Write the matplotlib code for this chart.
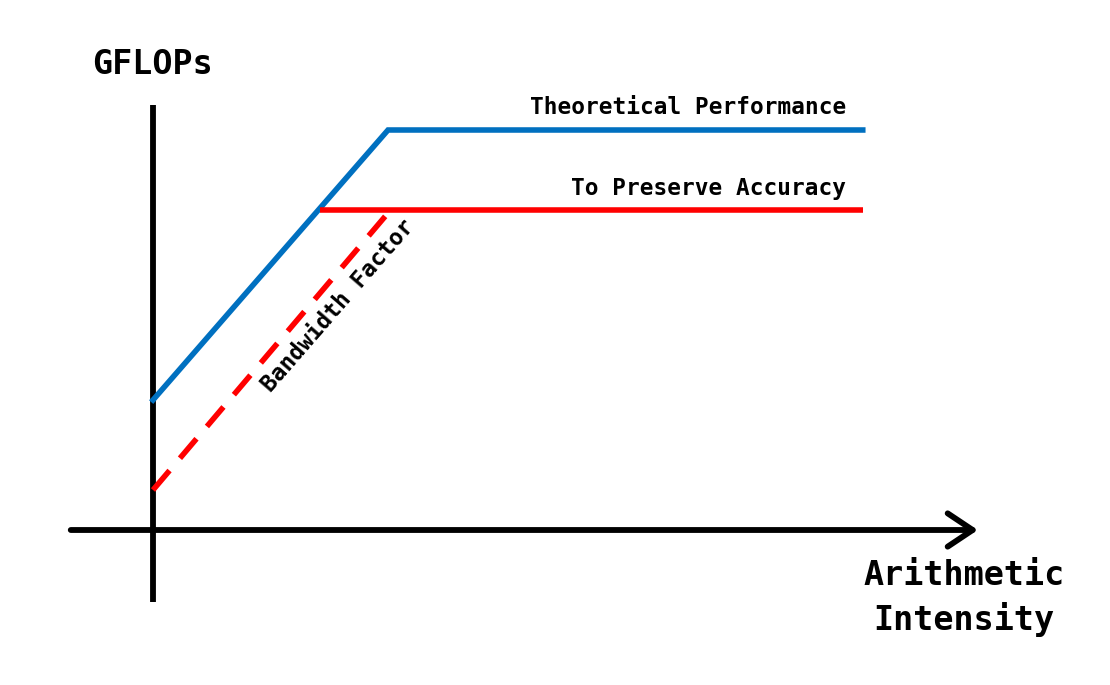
import matplotlib.pyplot as plt
import numpy as np

# roofline sketch, arbitrary units (origin = axis crossing)
blue_x = [0.0, 10.0, 30.2]
blue_y = [13.0, 40.0, 40.0]
red_x = [7.1, 30.2]
red_y = [32.0, 32.0]
dash_x = [0.0, 10.0]
dash_y = [4.0, 31.7]

labels = ['Theoretical Performance', 'To Preserve Accuracy']
label_y = [42.2, 34.1]

plt.rcParams['font.family'] = ['DejaVu Sans Mono']
plt.rcParams['font.weight'] = 'bold'

fig = plt.figure(figsize=(11.1, 6.85), dpi=100)
ax = fig.add_axes([0, 0, 1, 1])
ax.set_xlim(-6.51, 40.72)
ax.set_ylim(-15.5, 53.0)
ax.axis('off')

# axes
ax.plot([0, 0], [-7.2, 42.5], color='black', lw=4.2, solid_capstyle='butt')
ax.annotate('', xy=(35.1, 0), xytext=(-3.5, 0),
            arrowprops=dict(arrowstyle='->, head_length=0.9, head_width=0.6',
                            lw=4.2, color='black', mutation_scale=20,
                            shrinkA=0, shrinkB=0, capstyle='round'))

ax.plot(blue_x, blue_y, color='#0070C0', lw=4.0, solid_joinstyle='miter')
ax.plot(red_x, red_y, color='#FF0000', lw=4.0, solid_capstyle='butt')
ax.plot(dash_x, dash_y, color='#FF0000', lw=4.0, dashes=(4.6, 2.9),
        dash_capstyle='butt')

for lab, yy in zip(labels, label_y):
    ax.text(29.5, yy, lab, fontsize=16.4, ha='right', va='center')

ax.text(0, 46.5, 'GFLOPs', fontsize=24, ha='center', va='center')
ax.text(34.5, -6.8, 'Arithmetic\nIntensity', fontsize=24, ha='center',
        va='center', linespacing=1.35)
ax.text(7.9, 22.4, 'Bandwidth Factor', fontsize=16.4, ha='center', va='center',
        rotation=49, rotation_mode='anchor')

plt.savefig('out.png', dpi=100)
